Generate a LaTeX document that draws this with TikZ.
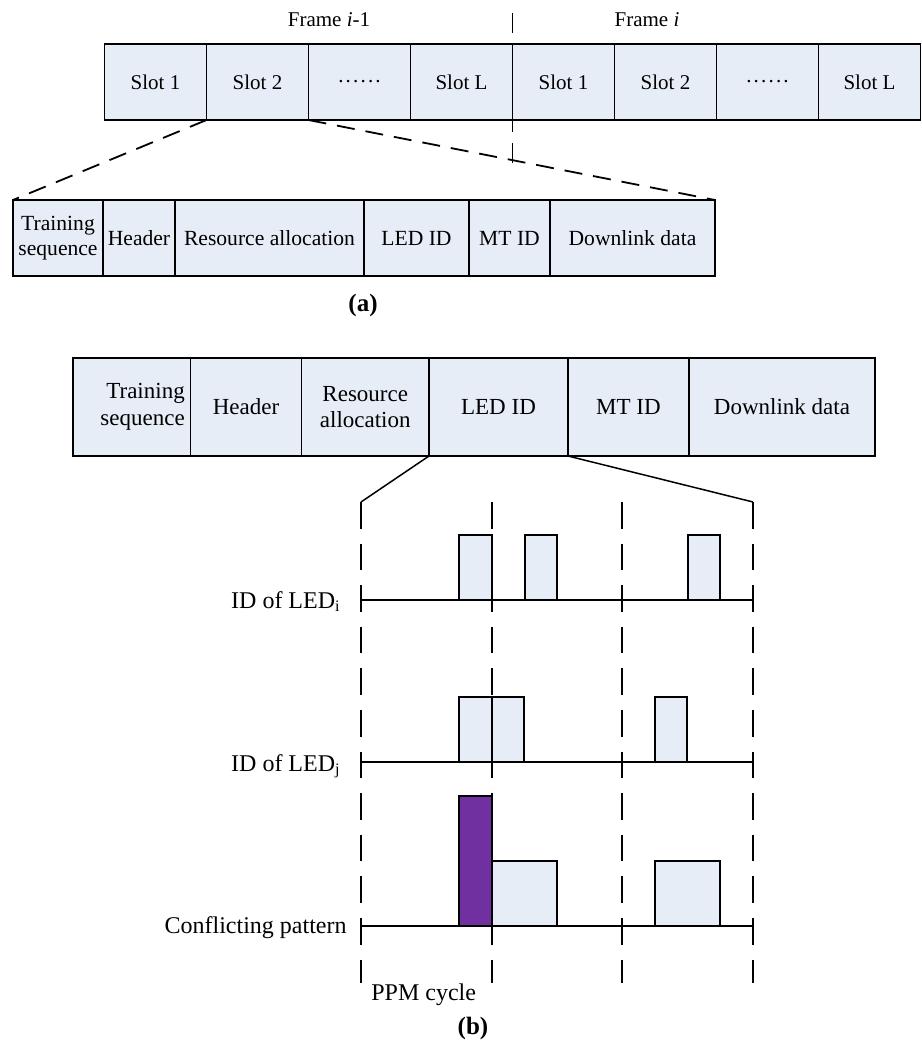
\documentclass[tikz,border=0pt]{standalone}
\usepackage{fontspec}
\setmainfont{Liberation Serif}
\usetikzlibrary{positioning}

\definecolor{cellfill}{RGB}{231,237,247}
\definecolor{clashfill}{RGB}{112,48,160}
\newcommand{\slotdots}{\vphantom{Slot}\raisebox{3.5pt}{.\kern1.1pt.\kern1.1pt.\kern1.1pt.\kern1.1pt.\kern1.1pt.}}

\begin{document}
\begin{tikzpicture}[x=0.5pt, y=-0.5pt,
		cell/.style={draw, fill=cellfill, line width=0.9pt, inner sep=0pt, outer sep=0pt, align=center},
		slotbox/.style={cell, anchor=north west, minimum width=51pt, minimum height=38pt, font=\fontsize{10.5}{12.5}\selectfont},
		fielda/.style={cell, minimum height=38pt, font=\fontsize{10.8}{12.5}\selectfont},
		fieldb/.style={cell, minimum height=49pt, font=\fontsize{11.5}{13.2}\selectfont},
		zoomline/.style={line width=0.9pt, dash pattern=on 9pt off 5.5pt},
		ppmline/.style={line width=0.75pt, dash pattern=on 13.3pt off 7.5pt},
		pulse/.style={draw, fill=cellfill, line width=0.9pt},
		axis/.style={line width=0.9pt},
		rowlbl/.style={anchor=base east, inner sep=0pt, font=\fontsize{12}{14}\selectfont},
		framelbl/.style={font=\fontsize{10.5}{12.5}\selectfont},
		caption/.style={font=\fontsize{12.5}{15}\selectfont\bfseries}]
	\useasboundingbox (0,0) rectangle (922,1041);

	\foreach \t [count=\k] in {Slot 1, Slot 2, \slotdots, Slot L, Slot 1, Slot 2, \slotdots, Slot L}
		\node[slotbox] (s\k) at ({104.5+102*(\k-1)},44) {\t};
	\node[framelbl] (fprev) at (329,20) {Frame \textit{i}-1};
	\node[framelbl] (fcur) at (647,20) {Frame \textit{i}};
	\draw[line width=0.6pt, dash pattern=on 10pt off 5pt on 44.5pt off 5.5pt on 10pt off 5pt]
		([yshift=15.5pt]s5.north west) -- ([yshift=-21.5pt]s5.south west);

	\node[fielda, anchor=north west, minimum width=45pt] (atrain) at (13,200) {Training\\sequence};
	\node[fielda, right=0pt of atrain, minimum width=36pt] (ahead) {Header};
	\node[fielda, right=0pt of ahead, minimum width=94.5pt] (ares) {Resource allocation};
	\node[fielda, right=0pt of ares, minimum width=52.5pt] (aled) {LED ID};
	\node[fielda, right=0pt of aled, minimum width=40.5pt] (amt) {MT ID};
	\node[fielda, right=0pt of amt, minimum width=82.5pt] (adata) {Downlink data};
	\draw[zoomline] (s2.south west) -- (atrain.north west);
	\draw[zoomline] (s2.south east) -- (adata.north east);
	\node[caption] (capa) at (363,305) {(a)};

	\node[fieldb, anchor=north west, minimum width=58.75pt, text width=53pt, align=right] (btrain) at (73,358) {Training\\sequence};
	\node[fieldb, right=0pt of btrain, minimum width=55.5pt] (bhead) {Header};
	\node[fieldb, right=0pt of bhead, minimum width=63.75pt] (bres) {Resource\\allocation};
	\node[fieldb, right=0pt of bres, minimum width=69.5pt] (bled) {LED ID};
	\node[fieldb, right=0pt of bled, minimum width=60.5pt] (bmt) {MT ID};
	\node[fieldb, right=0pt of bmt, minimum width=93pt] (bdata) {Downlink data};

	\foreach \x [count=\k from 0] in {361,492,622,753} {
		\coordinate (p\k) at (\x,502);
		\coordinate (q\k) at (\x,983);
		\draw[ppmline] (p\k) -- (q\k);
	}
	\draw[line width=0.75pt] (bled.south west) -- (p0);
	\draw[line width=0.75pt] (bled.south east) -- (p3);

	\foreach \xa/\xb/\yb/\yt in {459/492/600/535, 525/557/600/535, 688/720/600/535,
			459/492/762/697, 492/524/762/697, 655/687/762/697,
			492/557/926/861, 655/720/926/861}
		\draw[pulse] (\xa,\yb) rectangle (\xb,\yt);
	\draw[pulse, fill=clashfill] (459,926) rectangle (492,796);
	\foreach \y in {600,762,926}
		\draw[axis] (p0 |- 0,\y) -- (p3 |- 0,\y);

	\node[rowlbl] (ledi) at (341,608) {ID of LED\textsubscript{i}};
	\node[rowlbl] (ledj) at (341,771) {ID of LED\textsubscript{j}};
	\node[rowlbl] (clash) at (347,933) {Conflicting pattern};
	\node[rowlbl, anchor=base west] (ppm) at (371,1000) {PPM cycle};
	\node[caption] (capb) at (473,1028) {(b)};
\end{tikzpicture}
\end{document}
